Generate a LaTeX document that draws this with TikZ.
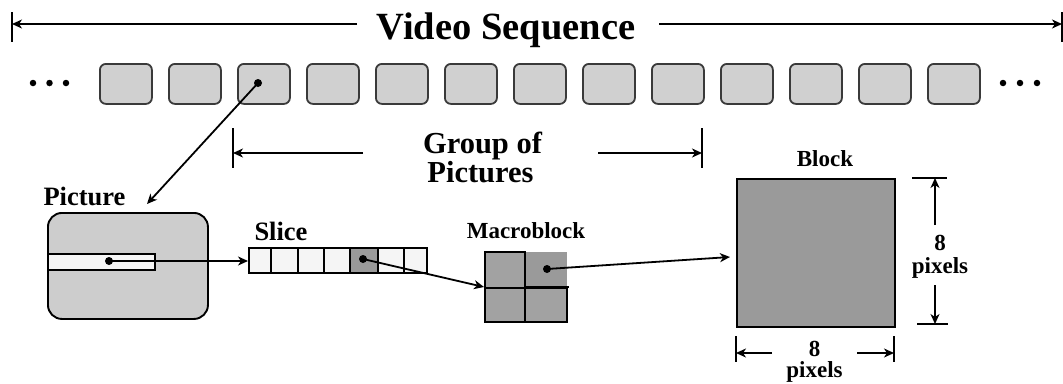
\documentclass[tikz,border=0pt]{standalone}
\usepackage{fontspec}
\setmainfont{Liberation Serif}
\usetikzlibrary{arrows.meta}
\definecolor{frfill}{HTML}{D0D0D0}
\definecolor{frdraw}{HTML}{3A3A3A}
\definecolor{picfill}{HTML}{CDCDCD}
\definecolor{light}{HTML}{F5F5F5}
\definecolor{midgray}{HTML}{9A9A9A}
\definecolor{mbgray}{HTML}{A2A2A2}
\begin{document}
\begin{tikzpicture}[x=1pt,y=-1pt,
  lw/.style={line width=1.9pt},
  arr/.style={line width=1.8pt,-{Stealth[length=10pt,width=9pt,inset=3pt]}},
  frame/.style={draw=frdraw, line width=1.8pt, fill=frfill, rounded corners=6pt,
    minimum width=52pt, minimum height=40pt, inner sep=0pt, anchor=north west},
  dotm/.style={circle, fill=black, inner sep=0pt, minimum size=8pt},
  elld/.style={circle, fill=black, inner sep=0pt, minimum size=6.5pt},
  biglab/.style={font=\bfseries\fontsize{38.5}{40}\selectfont, inner sep=0pt, anchor=base},
  gop/.style={font=\bfseries\fontsize{30.5}{32}\selectfont, inner sep=0pt, anchor=base},
  lab/.style={font=\bfseries\fontsize{26.5}{28}\selectfont, inner sep=0pt, anchor=base},
  slab/.style={font=\bfseries\fontsize{23}{24}\selectfont, inner sep=0pt, anchor=base},
  cell/.style={draw, line width=1.9pt, fill=light, minimum height=25pt, inner sep=0pt, anchor=north west},
  quad/.style={line width=1.9pt, fill=mbgray, inner sep=0pt, anchor=north west}
]
\useasboundingbox (0,0) rectangle (1063,383);

% ---- Video sequence ----
\node[biglab] (vs) at (506,39) {Video Sequence};
\draw[lw] (12,12) -- (12,42);
\draw[lw] (1062,12) -- (1062,42);
\coordinate (vsl) at (357,24);
\coordinate (vsle) at (12,24);
\coordinate (vsr) at (659,24);
\coordinate (vsre) at (1062,24);
\draw[arr] (vsl) -- (vsle);
\draw[arr] (vsr) -- (vsre);

% ---- frames ----
\foreach \i in {0,...,12}
  \node[frame] (f\i) at ({99+69*\i},63) {};
\node[elld] (e1) at (33,83) {};
\node[elld] (e2) at (49.5,83) {};
\node[elld] (e3) at (66,83) {};
\node[elld] (e4) at (1003,83) {};
\node[elld] (e5) at (1020,83) {};
\node[elld] (e6) at (1037,83) {};

% ---- group of pictures ----
\node[gop] (g1) at (482.5,153) {Group of};
\node[gop] (g2) at (480.5,182) {Pictures};
\draw[lw] (233,128) -- (233,168);
\draw[lw] (702,128) -- (702,168);
\coordinate (gl) at (363,153);
\coordinate (gle) at (233,153);
\coordinate (gr) at (598,153);
\coordinate (gre) at (702,153);
\draw[arr] (gl) -- (gle);
\draw[arr] (gr) -- (gre);

% ---- picture ----
\node[lab] (piclab) at (84.5,205) {Picture};
\node[draw, line width=1.9pt, fill=picfill, rounded corners=14pt, minimum width=160pt,
  minimum height=106pt, inner sep=0pt, anchor=north west] (pic) at (47,212) {};
\node[draw, line width=1.9pt, fill=light, minimum width=107pt, minimum height=16pt,
  inner sep=0pt, anchor=north west] (strip) at (47,253) {};
\node[dotm] (fd) at (258,83) {};
\coordinate (pictip) at (147,204);
\draw[arr] (fd.center) -- (pictip);

% ---- slice ----
\node[lab] (slicelab) at (281,240) {Slice};
\foreach \a/\b [count=\i] in {248/270,270/297,297/323,323/349,349/377,377/403,403/426}
  \node[cell, minimum width={(\b-\a)*1pt}] (c\i) at (\a,247) {};
\node[cell, fill=midgray, minimum width=28pt] (c5) at (349,247) {};
\node[dotm] (pd) at (109,261) {};
\draw[arr] (pd.center) -- (c1.west |- pd.center);
\node[dotm] (sd) at (363,259) {};

% ---- macroblock ----
\node[slab] (mblab) at (526,238) {Macroblock};
\node[quad, fill=midgray, minimum width=42pt, minimum height=36pt] (q2) at (524,251) {};
\node[quad, draw, minimum width=40pt, minimum height=36pt] (q1) at (484,251) {};
\node[quad, draw, minimum width=40pt, minimum height=34pt] (q3) at (484,287) {};
\node[quad, draw, minimum width=42pt, minimum height=34pt] (q4) at (524,287) {};
\draw[lw] (q3.north east) -- ++(43,0);
\draw[arr] (sd.center) -- (q3.north west);
\node[dotm] (md) at (547,269) {};

% ---- block ----
\node[slab] (blklab) at (825,166) {Block};
\node[draw, line width=1.9pt, fill=midgray, minimum width=158pt, minimum height=148pt,
  inner sep=0pt, anchor=north west] (blk) at (736,178) {};
\coordinate (bt) at (730,257);
\draw[arr] (md.center) -- (bt);

% right dimension
\draw[lw] (912,178) -- (947,178);
\draw[lw] (917,324) -- (948,324);
\coordinate (ru) at (935,225);
\coordinate (rue) at (935,178);
\coordinate (rd) at (935,285);
\coordinate (rde) at (935,324);
\draw[arr] (ru) -- (rue);
\draw[arr] (rd) -- (rde);
\node[slab] (r8) at (940,250) {8};
\node[slab] (rpx) at (940,273) {pixels};

% bottom dimension
\draw[lw] (736,336) -- (736,362);
\draw[lw] (894,336) -- (894,362);
\coordinate (bl) at (772,353);
\coordinate (ble) at (736,353);
\coordinate (br) at (857,353);
\coordinate (bre) at (894,353);
\draw[arr] (bl) -- (ble);
\draw[arr] (br) -- (bre);
\node[slab] (b8) at (814.5,356) {8};
\node[slab] (bpx) at (814.5,377.5) {pixels};
\end{tikzpicture}
\end{document}
